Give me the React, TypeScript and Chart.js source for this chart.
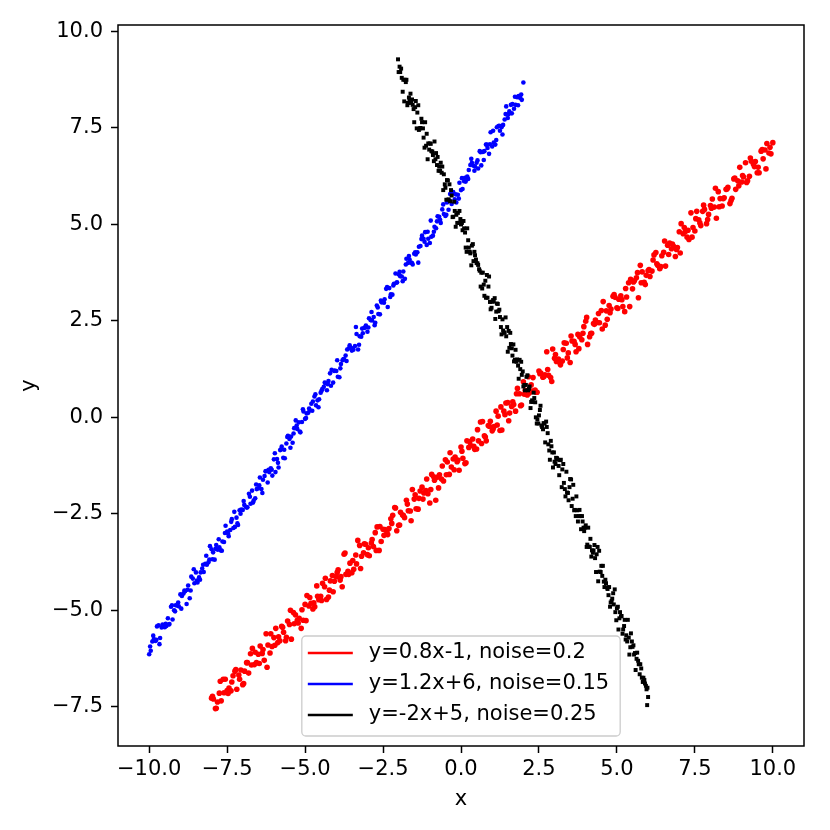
import { useEffect, useRef } from 'react';
import Chart from 'chart.js/auto';

const FONT = 'DejaVu Sans';

const seriesLabels = ['y=0.8x-1, noise=0.2', 'y=1.2x+6, noise=0.15', 'y=-2x+5, noise=0.25'];
const seriesColors = ['#ff0000', '#0000ff', '#000000'];
const xTicks = [-10, -7.5, -5, -2.5, 0, 2.5, 5, 7.5, 10];
const yTicks = [-7.5, -5, -2.5, 0, 2.5, 5, 7.5, 10];

// points, [x, y]
const redPoints: [number, number][] = [
  [-8,-7.28],[-7.875,-7.55],[-7.75,-7.15],[-7.625,-6.79],[-7.5,-7.08],[-7.375,-7.09],[-7.25,-6.58],[-7.125,-6.68],[-7,-6.93],[-6.875,-6.36],
  [-6.75,-6.13],[-6.625,-6.41],[-6.5,-6.14],[-6.375,-6.12],[-6.25,-5.61],[-6.125,-6.11],[-6,-5.71],[-5.875,-5.84],[-5.75,-5.42],[-5.625,-5.79],
  [-5.5,-5.37],[-5.375,-5.06],[-5.25,-5.26],[-5.125,-5.47],[-5,-4.85],[-4.875,-4.89],[-4.75,-4.97],[-4.625,-4.37],[-4.5,-4.64],[-4.375,-4.39],
  [-4.25,-4.66],[-4.125,-4.1],[-4,-4.13],[-3.875,-4.22],[-3.75,-3.55],[-3.625,-3.99],[-3.5,-4.03],[-3.375,-3.57],[-3.25,-3.32],[-3.125,-3.51],
  [-3,-3.56],[-2.875,-3.26],[-2.75,-2.99],[-2.625,-3.45],[-2.5,-2.9],[-2.375,-2.97],[-2.25,-2.63],[-2.125,-2.34],[-2,-2.8],[-1.875,-2.53],
  [-1.75,-2.15],[-1.625,-2.43],[-1.5,-2.12],[-1.375,-2.38],[-1.25,-1.81],[-1.125,-1.9],[-1,-2.22],[-0.875,-1.54],[-0.75,-1.55],[-0.625,-1.6],
  [-0.5,-1.1],[-0.375,-1.48],[-0.25,-1.08],[-0.125,-1.15],[0,-0.77],[0.125,-1.2],[0.25,-0.78],[0.375,-0.56],[0.5,-0.82],[0.625,-0.12],
  [0.75,-0.48],[0.875,-0.21],[1,-0.35],[1.125,0.16],[1.25,-0.34],[1.375,0.16],[1.5,0.38],[1.625,0.28],[1.75,0.16],[1.875,0.61],
  [2,0.92],[2.125,0.58],[2.25,0.84],[2.375,0.71],[2.5,1.2],[2.625,1.04],[2.75,1.7],[2.875,1.03],[3,1.53],[3.125,1.51],
  [3.25,1.46],[3.375,1.92],[3.5,1.42],[3.625,1.97],[3.75,2.15],[3.875,2.01],[4,2.49],[4.125,2.09],[4.25,2.43],[4.375,2.46],
  [4.5,2.77],[4.625,2.39],[4.75,2.9],[4.875,3.14],[5,2.84],[5.125,3.15],[5.25,2.74],[5.375,3.49],[5.5,3.33],[5.625,3.62],
  [5.75,3.94],[5.875,3.5],[6,3.8],[6.125,3.79],[6.25,4.27],[6.375,3.85],[6.5,4.28],[6.625,4.46],[6.75,4.37],[6.875,4.17],
  [7,4.81],[7.125,4.76],[7.25,4.67],[7.375,5.3],[7.5,4.83],[7.625,5.12],[7.75,5.34],[7.875,5.02],[8,5.49],[8.125,5.45],
  [8.25,5.85],[8.375,5.48],[8.5,5.91],[8.625,5.54],[8.75,6.18],[8.875,6.13],[9,6.1],[9.125,6.6],[9.25,6.25],[9.375,6.57],
  [9.5,6.34],[9.625,6.9],[9.75,6.93],[9.875,6.85],[10,7.12],
  [-7.94,-7.3],[-7.81,-7.38],[-7.69,-7.35],[-7.56,-6.79],[-7.44,-7.02],[-7.31,-6.7],[-7.19,-7.05],[-7.06,-6.55],[-6.94,-6.58],[-6.81,-6.63],
  [-6.69,-5.99],[-6.56,-6.36],[-6.44,-5.93],[-6.31,-6.3],[-6.19,-5.9],[-6.06,-5.94],[-5.94,-5.47],[-5.81,-5.79],[-5.69,-5.57],[-5.56,-5.28],
  [-5.44,-5.75],[-5.31,-5.12],[-5.19,-5.21],[-5.06,-5.26],[-4.94,-4.62],[-4.81,-4.82],[-4.69,-4.91],[-4.56,-4.73],[-4.44,-4.3],[-4.31,-4.72],
  [-4.19,-4.24],[-4.06,-4.25],[-3.94,-3.95],[-3.81,-4.39],[-3.69,-4.07],[-3.56,-3.78],[-3.44,-3.94],[-3.31,-3.19],[-3.19,-3.6],[-3.06,-3.29],
  [-2.94,-3.59],[-2.81,-3.35],[-2.69,-2.84],[-2.56,-3.22],[-2.44,-2.91],[-2.31,-2.88],[-2.19,-2.54],[-2.06,-2.94],[-1.94,-2.46],[-1.81,-2.6],
  [-1.69,-2.42],[-1.56,-1.87],[-1.44,-2.37],[-1.31,-1.91],[-1.19,-1.96],[-1.06,-1.98],[-0.94,-1.48],[-0.81,-2.15],[-0.69,-1.49],[-0.56,-1.65],
  [-0.44,-1.16],[-0.31,-1.29],[-0.19,-1.03],[-0.06,-1.37],[0.06,-1.06],[0.19,-0.61],[0.31,-0.73],[0.44,-0.83],[0.56,-0.61],[0.69,-0.11],
  [0.81,-0.61],[0.94,-0.1],[1.06,-0.24],[1.19,0.03],[1.31,-0.33],[1.44,0.37],[1.56,0.11],[1.69,0.33],[1.81,0.75],[1.94,0.32],
  [2.06,0.7],[2.19,0.63],[2.31,1.03],[2.44,0.65],[2.56,1.15],[2.69,1.1],[2.81,1.09],[2.94,1.77],[3.06,1.45],[3.19,1.36],
  [3.31,1.93],[3.44,1.67],[3.56,1.98],[3.69,1.7],[3.81,2.08],[3.94,2.35],[4.06,1.89],[4.19,2.18],[4.31,2.52],[4.44,2.45],
  [4.56,3],[4.69,2.54],[4.81,2.81],[4.94,3.11],[5.06,3.06],[5.19,2.87],[5.31,3.12],[5.44,3.58],[5.56,3.54],[5.69,3.1],
  [5.81,3.77],[5.94,3.68],[6.06,3.65],[6.19,4.21],[6.31,3.94],[6.44,4.19],[6.56,3.92],[6.69,4.52],[6.81,4.44],[6.94,4.4],
  [7.06,5.02],[7.19,4.81],[7.31,4.61],[7.44,4.92],[7.56,5.34],[7.69,4.97],[7.81,5.39],[7.94,5.26],[8.06,5.66],[8.19,5.16],
  [8.31,5.67],[8.44,5.69],[8.56,5.96],[8.69,5.68],[8.81,5.91],[8.94,6.48],[9.06,6.23],[9.19,6.13],[9.31,6.64],[9.44,6.63],
  [9.56,6.34],[9.69,6.7],[9.81,7.1],[9.94,6.83],
  [-7.97,-7.23],[-7.85,-7.54],[-7.72,-6.84],[-7.6,-7.14],[-7.47,-7.16],[-7.35,-6.86],[-7.22,-6.54],[-7.1,-6.79],[-6.97,-6.9],[-6.85,-6.36],
  [-6.72,-6.42],[-6.6,-6.09],[-6.47,-6.38],[-6.35,-6.02],[-6.22,-6.48],[-6.1,-5.61],[-5.97,-5.91],[-5.85,-5.69],[-5.72,-5.44],[-5.6,-5.7],
  [-5.47,-5],[-5.35,-5.35],[-5.22,-5.33],[-5.1,-4.99],[-4.97,-5.27],[-4.85,-4.67],[-4.72,-4.81],[-4.6,-4.64],[-4.47,-4.75],[-4.35,-4.17],
  [-4.22,-4.48],[-4.1,-4.52],[-3.97,-4.02],[-3.85,-4.13],[-3.72,-3.52],[-3.6,-4.07],[-3.47,-3.71],[-3.35,-3.8],[-3.22,-3.92],[-3.1,-3.28],
  [-2.97,-3.38],[-2.85,-3.17],[-2.72,-3.45],[-2.6,-2.83],[-2.47,-3.06],[-2.35,-3.04],[-2.22,-2.75],[-2.1,-2.35],[-1.97,-2.79],[-1.85,-2.54],
  [-1.72,-2.25],[-1.6,-2.68],[-1.47,-2.01],[-1.35,-2.1],[-1.22,-2.12],[-1.1,-1.6],[-0.97,-1.87],[-0.85,-1.63],[-0.72,-1.83],[-0.6,-1.26],
  [-0.47,-1.49],[-0.35,-0.92],[-0.22,-1.36],[-0.1,-1.11],[0.03,-0.88],[0.16,-1.18],[0.28,-0.63],[0.41,-0.75],[0.53,-0.32],[0.66,-0.68],
  [0.78,-0.51],[0.91,-0.23],[1.03,-0.3],[1.16,-0.2],[1.28,0.27],[1.41,0.07],[1.53,-0.09],[1.66,0.4],[1.78,0.61],[1.91,0.3],
  [2.03,0.6],[2.16,1.05],[2.28,0.68],[2.41,0.65],[2.53,1.13],[2.66,1.06],[2.78,1.24],[2.91,0.93],[3.03,1.63],[3.16,1.43],
  [3.28,1.76],[3.41,1.54],[3.53,2.11],[3.66,1.89],[3.78,1.78],[3.91,2.18],[4.03,2.59],[4.16,2.17],[4.28,2.41],[4.41,2.69],
  [4.53,2.29],[4.66,2.76],[4.78,2.71],[4.91,3.18],[5.03,2.82],[5.16,3.05],[5.28,3.34],[5.41,2.87],[5.53,3.51],[5.66,3.75],
  [5.78,3.49],[5.91,3.44],[6.03,3.83],[6.16,4.08],[6.28,3.98],[6.41,3.91],[6.53,4.57],[6.66,4.22],[6.78,4.49],[6.91,4.35],
  [7.03,4.26],[7.16,4.92],[7.28,4.85],[7.41,4.67],[7.53,5.15],[7.66,5.04],[7.78,5.5],[7.91,5.13],[8.03,5.42],[8.16,5.94],
  [8.28,5.46],[8.41,5.67],[8.53,5.92],[8.66,5.62],[8.78,6.2],[8.91,6],[9.03,6.27],[9.16,6.09],[9.28,6.72],[9.41,6.5],
  [9.53,6.48],[9.66,6.94],[9.78,6.44],[9.91,7],
];

const bluePoints: [number, number][] = [
  [-10,-6.14],[-9.95,-6.05],[-9.9,-5.81],[-9.85,-5.75],[-9.8,-5.8],[-9.75,-5.42],[-9.7,-5.39],[-9.65,-5.72],[-9.6,-5.45],[-9.55,-5.42],
  [-9.5,-5.44],[-9.45,-5.41],[-9.4,-5.21],[-9.35,-5.36],[-9.3,-4.91],[-9.25,-5.24],[-9.2,-5],[-9.15,-4.87],[-9.1,-4.88],[-9.05,-4.9],
  [-9,-4.59],[-8.95,-4.63],[-8.9,-4.57],[-8.85,-4.51],[-8.8,-4.84],[-8.75,-4.36],[-8.7,-4.69],[-8.65,-4.13],[-8.6,-4.18],[-8.55,-4.3],
  [-8.5,-4.02],[-8.45,-4.28],[-8.4,-4.15],[-8.35,-4.02],[-8.3,-3.92],[-8.25,-4.01],[-8.2,-3.8],[-8.15,-3.82],[-8.1,-3.76],[-8.05,-3.34],
  [-8,-3.42],[-7.95,-3.5],[-7.9,-3.69],[-7.85,-3.31],[-7.8,-3.43],[-7.75,-3.37],[-7.7,-3.45],[-7.65,-3.22],[-7.6,-3.23],[-7.55,-2.81],
  [-7.5,-2.96],[-7.45,-3.08],[-7.4,-2.92],[-7.35,-2.64],[-7.3,-2.87],[-7.25,-2.84],[-7.2,-2.6],[-7.15,-2.79],[-7.1,-2.41],[-7.05,-2.39],
  [-7,-2.4],[-6.95,-2.27],[-6.9,-2.32],[-6.85,-2.33],[-6.8,-1.98],[-6.75,-2.24],[-6.7,-1.9],[-6.65,-2.16],[-6.6,-2.1],[-6.55,-1.86],
  [-6.5,-1.84],[-6.45,-1.56],[-6.4,-1.86],[-6.35,-1.62],[-6.3,-1.52],[-6.25,-1.39],[-6.2,-1.69],[-6.15,-1.42],[-6.1,-1.32],[-6.05,-1.51],
  [-6,-1.09],[-5.95,-1.42],[-5.9,-1.08],[-5.85,-1.3],[-5.8,-0.85],[-5.75,-0.76],[-5.7,-1.05],[-5.65,-1.06],[-5.6,-0.68],[-5.55,-0.48],
  [-5.5,-0.56],[-5.45,-0.5],[-5.4,-0.66],[-5.35,-0.28],[-5.3,-0.08],[-5.25,-0.3],[-5.2,-0.13],[-5.15,-0.39],[-5.1,-0.12],[-5.05,0.15],
  [-5,-0.04],[-4.95,0.1],[-4.9,0.12],[-4.85,0.18],[-4.8,0.35],[-4.75,0.41],[-4.7,0.54],[-4.65,0.31],[-4.6,0.44],[-4.55,0.47],
  [-4.5,0.64],[-4.45,0.73],[-4.4,0.79],[-4.35,0.89],[-4.3,0.7],[-4.25,0.94],[-4.2,1.14],[-4.15,1.23],[-4.1,0.9],[-4.05,1.21],
  [-4,1.2],[-3.95,1.05],[-3.9,1.04],[-3.85,1.38],[-3.8,1.48],[-3.75,1.5],[-3.7,1.6],[-3.65,1.76],[-3.6,1.79],[-3.55,1.81],
  [-3.5,1.73],[-3.45,1.75],[-3.4,1.85],[-3.35,2.16],[-3.3,1.76],[-3.25,2.1],[-3.2,2.09],[-3.15,2.18],[-3.1,2.32],[-3.05,2.38],
  [-3,2.22],[-2.95,2.57],[-2.9,2.52],[-2.85,2.51],[-2.8,2.6],[-2.75,2.45],[-2.7,2.9],[-2.65,2.68],[-2.6,2.67],[-2.55,2.98],
  [-2.5,3],[-2.45,3.06],[-2.4,3.33],[-2.35,2.86],[-2.3,3.35],[-2.25,3.19],[-2.2,3.18],[-2.15,3.46],[-2.1,3.73],[-2.05,3.5],
  [-2,3.71],[-1.95,3.66],[-1.9,3.65],[-1.85,3.78],[-1.8,3.59],[-1.75,4.11],[-1.7,4],[-1.65,4.09],[-1.6,4.01],[-1.55,3.96],
  [-1.5,4.24],[-1.45,4.22],[-1.4,4.28],[-1.35,4.42],[-1.3,4.44],[-1.25,4.71],[-1.2,4.63],[-1.15,4.8],[-1.1,4.47],[-1.05,4.63],
  [-1,4.52],[-0.95,4.68],[-0.9,4.71],[-0.85,4.94],[-0.8,4.9],[-0.75,5.21],[-0.7,5.2],[-0.65,5.04],[-0.6,5.39],[-0.55,5.27],
  [-0.5,5.22],[-0.45,5.57],[-0.4,5.38],[-0.35,5.79],[-0.3,5.53],[-0.25,5.84],[-0.2,5.65],[-0.15,5.57],[-0.1,5.77],[-0.05,6.08],
  [0,5.89],[0.05,5.92],[0.1,6.12],[0.15,6.11],[0.2,6.24],[0.25,6.41],[0.3,6.54],[0.35,6.6],[0.4,6.52],[0.45,6.5],
  [0.5,6.6],[0.55,6.45],[0.6,6.9],[0.65,6.53],[0.7,6.88],[0.75,6.9],[0.8,7.07],[0.85,6.98],[0.9,6.83],[0.95,7.39],
  [1,7.02],[1.05,7.12],[1.1,7.07],[1.15,7.52],[1.2,7.55],[1.25,7.43],[1.3,7.52],[1.35,7.58],[1.4,7.72],[1.45,8.06],
  [1.5,7.76],[1.55,7.93],[1.6,8.1],[1.65,8.12],[1.7,8],[1.75,8.1],[1.8,8.3],[1.85,8.33],[1.9,8.28],[1.95,8.23],
  [2,8.68],
  [-9.97,-5.94],[-9.87,-5.66],[-9.77,-5.77],[-9.67,-5.88],[-9.57,-5.37],[-9.47,-5.35],[-9.37,-5.37],[-9.27,-4.87],[-9.17,-5.03],[-9.07,-4.8],
  [-8.97,-4.96],[-8.87,-4.49],[-8.77,-4.47],[-8.67,-4.49],[-8.57,-3.94],[-8.47,-4.23],[-8.37,-4.21],[-8.27,-3.82],[-8.17,-3.59],[-8.07,-3.69],
  [-7.97,-3.68],[-7.87,-3.41],[-7.77,-3.16],[-7.67,-3.46],[-7.57,-3],[-7.47,-3.01],[-7.37,-2.71],[-7.27,-2.45],[-7.17,-2.75],[-7.07,-2.5],
  [-6.97,-2.17],[-6.87,-2.34],[-6.77,-2.06],[-6.67,-2.21],[-6.57,-1.74],[-6.47,-1.76],[-6.37,-1.96],[-6.27,-1.4],[-6.17,-1.36],[-6.07,-1.36],
  [-5.97,-0.93],[-5.87,-1.18],[-5.77,-0.83],[-5.67,-0.84],[-5.57,-0.51],[-5.47,-0.79],[-5.37,-0.42],[-5.27,-0.21],[-5.17,-0.37],[-5.07,0.21],
  [-4.97,-0.02],[-4.87,0.23],[-4.77,0.17],[-4.67,0.6],[-4.57,0.26],[-4.47,0.69],[-4.37,0.9],[-4.27,0.86],[-4.17,0.82],[-4.07,1.2],
  [-3.97,1.48],[-3.87,1.27],[-3.77,1.51],[-3.67,1.46],[-3.57,1.87],[-3.47,1.79],[-3.37,2.34],[-3.27,1.88],[-3.17,2.3],[-3.07,2.33],
  [-2.97,2.33],[-2.87,2.73],[-2.77,2.39],[-2.67,2.85],[-2.57,3.03],[-2.47,2.97],[-2.37,3.38],[-2.27,3.12],[-2.17,3.42],[-2.07,3.49],
  [-1.97,3.77],[-1.87,3.53],[-1.77,3.96],[-1.67,4.18],[-1.57,4],[-1.47,4.28],[-1.37,4.01],[-1.27,4.62],[-1.17,4.55],[-1.07,4.81],
  [-0.97,5.1],[-0.87,4.81],[-0.77,5.08],[-0.67,5.12],[-0.57,5.52],[-0.47,5.25],[-0.37,5.62],[-0.27,5.8],[-0.17,5.78],[-0.07,5.67],
  [0.03,6.2],[0.13,6.21],[0.23,6.18],[0.33,6.7],[0.43,6.39],[0.53,6.66],[0.63,6.87],[0.73,6.67],[0.83,7.07],[0.93,7.08],
  [1.03,7.43],[1.13,7.19],[1.23,7.56],[1.33,7.33],[1.43,7.86],[1.53,7.86],[1.63,7.88],[1.73,8.31],[1.83,8.09],[1.93,8.37],
];

const blackPoints: [number, number][] = [
  [-2,8.95],[-1.95,8.95],[-1.9,8.8],[-1.85,8.75],[-1.8,8.75],[-1.75,8.75],[-1.7,8.15],[-1.65,8.2],[-1.6,8.15],[-1.55,8.1],
  [-1.5,7.65],[-1.45,8.2],[-1.4,7.9],[-1.35,7.45],[-1.3,7.5],[-1.25,7.65],[-1.2,7.25],[-1.15,7.65],[-1.1,7.35],[-1.05,7.1],
  [-1,7.1],[-0.95,6.9],[-0.9,6.8],[-0.85,7.15],[-0.8,6.85],[-0.75,6.75],[-0.7,6.5],[-0.65,6.6],[-0.6,6.5],[-0.55,6.3],
  [-0.5,5.95],[-0.45,6.15],[-0.4,5.65],[-0.35,5.6],[-0.3,5.75],[-0.25,5.2],[-0.2,5.35],[-0.15,5.25],[-0.1,5.3],[-0.05,5.35],
  [0,5],[0.05,4.85],[0.1,4.9],[0.15,4.4],[0.2,4.9],[0.25,4.4],[0.3,4.25],[0.35,4.45],[0.4,4.05],[0.45,4.2],
  [0.5,4],[0.55,3.95],[0.6,3.8],[0.65,3.75],[0.7,3.75],[0.75,3.15],[0.8,3.1],[0.85,3.1],[0.9,3.65],[0.95,2.8],
  [1,3],[1.05,3],[1.1,2.55],[1.15,2.95],[1.2,2.75],[1.25,2.6],[1.3,2.15],[1.35,2.25],[1.4,2.2],[1.45,2.1],
  [1.5,1.7],[1.55,1.8],[1.6,1.9],[1.65,1.6],[1.7,1.45],[1.75,1.75],[1.8,1.5],[1.85,1],[1.9,1.25],[1.95,1.1],
  [2,0.8],[2.05,0.7],[2.1,1.05],[2.15,0.7],[2.2,0.8],[2.25,0.4],[2.3,0.4],[2.35,0.5],[2.4,0],[2.45,-0.05],
  [2.5,0.05],[2.55,0.3],[2.6,-0.25],[2.65,-0.15],[2.7,-0.65],[2.75,-0.25],[2.8,-0.7],[2.85,-1.1],[2.9,-0.75],[2.95,-1.3],
  [3,-1.15],[3.05,-1.05],[3.1,-1.1],[3.15,-1.5],[3.2,-1.1],[3.25,-1.35],[3.3,-1.7],[3.35,-2.05],[3.4,-1.95],[3.45,-2.15],
  [3.5,-1.6],[3.55,-2.3],[3.6,-1.75],[3.65,-2.4],[3.7,-2.05],[3.75,-2.7],[3.8,-2.4],[3.85,-2.9],[3.9,-2.7],[3.95,-2.95],
  [4,-2.8],[4.05,-3.3],[4.1,-3.35],[4.15,-3.15],[4.2,-3.45],[4.25,-3.45],[4.3,-3.65],[4.35,-3.55],[4.4,-4.25],[4.45,-4],
  [4.5,-3.85],[4.55,-3.85],[4.6,-4.4],[4.65,-4.3],[4.7,-4.45],[4.75,-4.4],[4.8,-4.8],[4.85,-4.7],[4.9,-4.85],[4.95,-5.05],
  [5,-4.95],[5.05,-5.5],[5.1,-5.05],[5.15,-5.15],[5.2,-5.5],[5.25,-5.25],[5.3,-5.65],[5.35,-5.25],[5.4,-6.15],[5.45,-5.6],
  [5.5,-5.95],[5.55,-6.15],[5.6,-6.55],[5.65,-6.1],[5.7,-6.4],[5.75,-6.4],[5.8,-6.75],[5.85,-6.75],[5.9,-6.9],[5.95,-7.05],
  [6,-7.25],
  [-1.97,9.09],[-1.92,9.04],[-1.87,8.44],[-1.82,8.19],[-1.77,8.69],[-1.72,8.09],[-1.67,8.29],[-1.62,8.39],[-1.57,8.24],[-1.52,7.99],
  [-1.47,8.04],[-1.42,7.49],[-1.37,8.09],[-1.32,7.49],[-1.27,7.74],[-1.22,7.49],[-1.17,6.99],[-1.12,7.04],[-1.07,6.69],[-1.02,6.94],
  [-0.97,7.09],[-0.92,6.89],[-0.87,6.64],[-0.82,6.69],[-0.77,6.54],[-0.72,6.39],[-0.67,6.39],[-0.62,6.34],[-0.57,5.89],[-0.52,6.04],
  [-0.47,5.64],[-0.42,6.14],[-0.37,6.04],[-0.32,5.89],[-0.27,5.19],[-0.22,5.59],[-0.17,4.94],[-0.12,5.04],[-0.07,5.04],[-0.02,5.14],
  [0.03,5.04],[0.08,5.09],[0.13,4.79],[0.18,4.29],[0.23,4.59],[0.28,4.29],[0.33,3.94],[0.38,4.49],[0.43,4.29],[0.48,4.09],
  [0.53,3.99],[0.58,3.84],[0.63,3.39],[0.68,3.34],[0.73,3.44],[0.78,3.54],[0.83,3.69],[0.88,3.39],[0.93,2.99],[0.98,2.84],
  [1.03,3.04],[1.08,3.09],[1.13,2.74],[1.18,2.94],[1.23,2.79],[1.28,2.34],[1.33,2.54],[1.38,2.19],[1.43,2.59],[1.48,2.34],
  [1.53,2.24],[1.58,2.19],[1.63,1.79],[1.68,1.89],[1.73,1.49],[1.78,1.44],[1.83,1.34],[1.88,1.49],[1.93,1.44],[1.98,1.19],
  [2.03,0.84],[2.08,0.84],[2.13,1.09],[2.18,0.74],[2.23,0.24],[2.28,0.44],[2.33,0.64],[2.38,0.39],[2.43,-0.16],[2.48,-0.16],
  [2.53,0.19],[2.58,-0.21],[2.63,-0.31],[2.68,-0.16],[2.73,-0.11],[2.78,-0.41],[2.83,-0.86],[2.88,-0.61],[2.93,-0.91],[2.98,-0.91],
  [3.03,-1.21],[3.08,-1.06],[3.13,-1.26],[3.18,-1.11],[3.23,-1.81],[3.28,-1.21],[3.33,-1.86],[3.38,-1.41],[3.43,-1.96],[3.48,-1.81],
  [3.53,-1.61],[3.58,-2.11],[3.63,-2.41],[3.68,-2.56],[3.73,-2.41],[3.78,-2.56],[3.83,-2.56],[3.88,-2.56],[3.93,-2.86],[3.98,-2.86],
  [4.03,-3.36],[4.08,-2.86],[4.13,-3.36],[4.18,-3.61],[4.23,-3.51],[4.28,-3.31],[4.33,-4.01],[4.38,-3.36],[4.43,-3.46],[4.48,-4.01],
  [4.53,-4.11],[4.58,-4.26],[4.63,-4.21],[4.68,-4.41],[4.73,-4.61],[4.78,-4.91],[4.83,-4.76],[4.88,-4.56],[4.93,-4.46],[4.98,-5.26],
  [5.03,-4.91],[5.08,-5.21],[5.13,-5.16],[5.18,-5.61],[5.23,-5.41],[5.28,-5.76],[5.33,-5.81],[5.38,-5.71],[5.43,-5.96],[5.48,-5.81],
  [5.53,-5.91],[5.58,-6.11],[5.63,-6.26],[5.68,-6.31],[5.73,-6.66],[5.78,-6.51],[5.83,-6.86],[5.88,-6.81],[5.93,-6.96],[5.98,-7.01],
  [-2.02,9.28],[5.97,-7.46],
];

const fmt = (v: number) => v.toFixed(1).replace('-', '\u2212');

// matplotlib-style frame on all four sides and a boxed legend inside the axes
const frameAndLegend = {
  id: 'frameAndLegend',
  afterDatasetsDraw(chart: any) {
    const { ctx, chartArea: a } = chart;
    ctx.save();
    ctx.strokeStyle = '#000';
    ctx.lineWidth = 1.5;
    ctx.strokeRect(a.left, a.top, a.right - a.left, a.bottom - a.top);
    ctx.restore();
  },
  afterDraw(chart: any) {
    const { ctx, chartArea: a } = chart;
    ctx.save();
    ctx.font = `21px "${FONT}"`;
    const textW = Math.max(...seriesLabels.map((l) => ctx.measureText(l).width));
    const w = 67 + textW + 11;
    const h = 100;
    const x = (a.left + a.right) / 2 - w / 2;
    const y = a.bottom - 10 - h;
    const r = 4;
    ctx.beginPath();
    ctx.moveTo(x + r, y);
    ctx.lineTo(x + w - r, y);
    ctx.arcTo(x + w, y, x + w, y + r, r);
    ctx.lineTo(x + w, y + h - r);
    ctx.arcTo(x + w, y + h, x + w - r, y + h, r);
    ctx.lineTo(x + r, y + h);
    ctx.arcTo(x, y + h, x, y + h - r, r);
    ctx.lineTo(x, y + r);
    ctx.arcTo(x, y, x + r, y, r);
    ctx.closePath();
    ctx.fillStyle = 'rgba(255,255,255,0.8)';
    ctx.fill();
    ctx.strokeStyle = '#cccccc';
    ctx.lineWidth = 1.3;
    ctx.stroke();
    seriesLabels.forEach((label, i) => {
      const ry = y + 17 + 31 * i;
      ctx.beginPath();
      ctx.moveTo(x + 6, ry);
      ctx.lineTo(x + 51, ry);
      ctx.strokeStyle = seriesColors[i];
      ctx.lineWidth = 2.7;
      ctx.stroke();
      ctx.fillStyle = '#000';
      ctx.textBaseline = 'middle';
      ctx.textAlign = 'left';
      ctx.fillText(label, x + 67, ry);
    });
    ctx.restore();
  },
};

const App = () => {
  const canvasRef = useRef<HTMLCanvasElement>(null);

  useEffect(() => {
    document.body.style.margin = '0';
    if (!canvasRef.current) return;
    const tickFont = { family: FONT, size: 21 };
    const chart = new Chart(canvasRef.current, {
      type: 'scatter',
      data: {
        datasets: [
          {
            label: seriesLabels[0],
            data: redPoints.map(([x, y]) => ({ x, y })),
            pointBackgroundColor: seriesColors[0],
            pointBorderWidth: 0,
            pointRadius: 2.8,
            pointStyle: 'circle',
            order: 3,
          },
          {
            label: seriesLabels[1],
            data: bluePoints.map(([x, y]) => ({ x, y })),
            pointBackgroundColor: seriesColors[1],
            pointBorderWidth: 0,
            pointRadius: 2.3,
            pointStyle: 'circle',
            order: 2,
          },
          {
            label: seriesLabels[2],
            data: blackPoints.map(([x, y]) => ({ x, y })),
            pointBackgroundColor: seriesColors[2],
            pointBorderWidth: 0,
            pointRadius: 2.8,
            pointStyle: 'rect',
            order: 1,
          },
        ],
      },
      options: {
        responsive: false,
        animation: false,
        events: [],
        layout: { padding: { top: 25, right: 26, left: 0, bottom: 0 } },
        plugins: { legend: { display: false }, tooltip: { enabled: false } },
        scales: {
          x: {
            type: 'linear',
            min: -11,
            max: 11,
            afterBuildTicks: (s: any) => { s.ticks = xTicks.map((value) => ({ value })); },
            afterFit: (s: any) => { s.height = 84; },
            ticks: { callback: (v: any) => fmt(Number(v)), font: tickFont, color: '#000', padding: 4, maxRotation: 0, autoSkip: false },
            grid: { drawOnChartArea: false, drawTicks: true, tickLength: 7, tickWidth: 1.5, tickColor: '#000' },
            border: { display: false },
            title: { display: true, text: 'x', font: tickFont, color: '#000', padding: { bottom: 18 } },
          },
          y: {
            type: 'linear',
            min: -8.52,
            max: 10.17,
            afterBuildTicks: (s: any) => { s.ticks = yTicks.map((value) => ({ value })); },
            afterFit: (s: any) => { s.width = 118; },
            ticks: { callback: (v: any) => fmt(Number(v)), font: tickFont, color: '#000', padding: 8, autoSkip: false },
            grid: { drawOnChartArea: false, drawTicks: true, tickLength: 7, tickWidth: 1.5, tickColor: '#000' },
            border: { display: false },
            title: { display: true, text: 'y', font: tickFont, color: '#000', padding: { top: 17 } },
          },
        },
      },
      plugins: [frameAndLegend],
    });
    return () => chart.destroy();
  }, []);

  return (
    <div style={{ width: 830, height: 830 }}>
      <canvas ref={canvasRef} width={830} height={830} style={{ display: 'block' }} />
    </div>
  );
};

export default App;
